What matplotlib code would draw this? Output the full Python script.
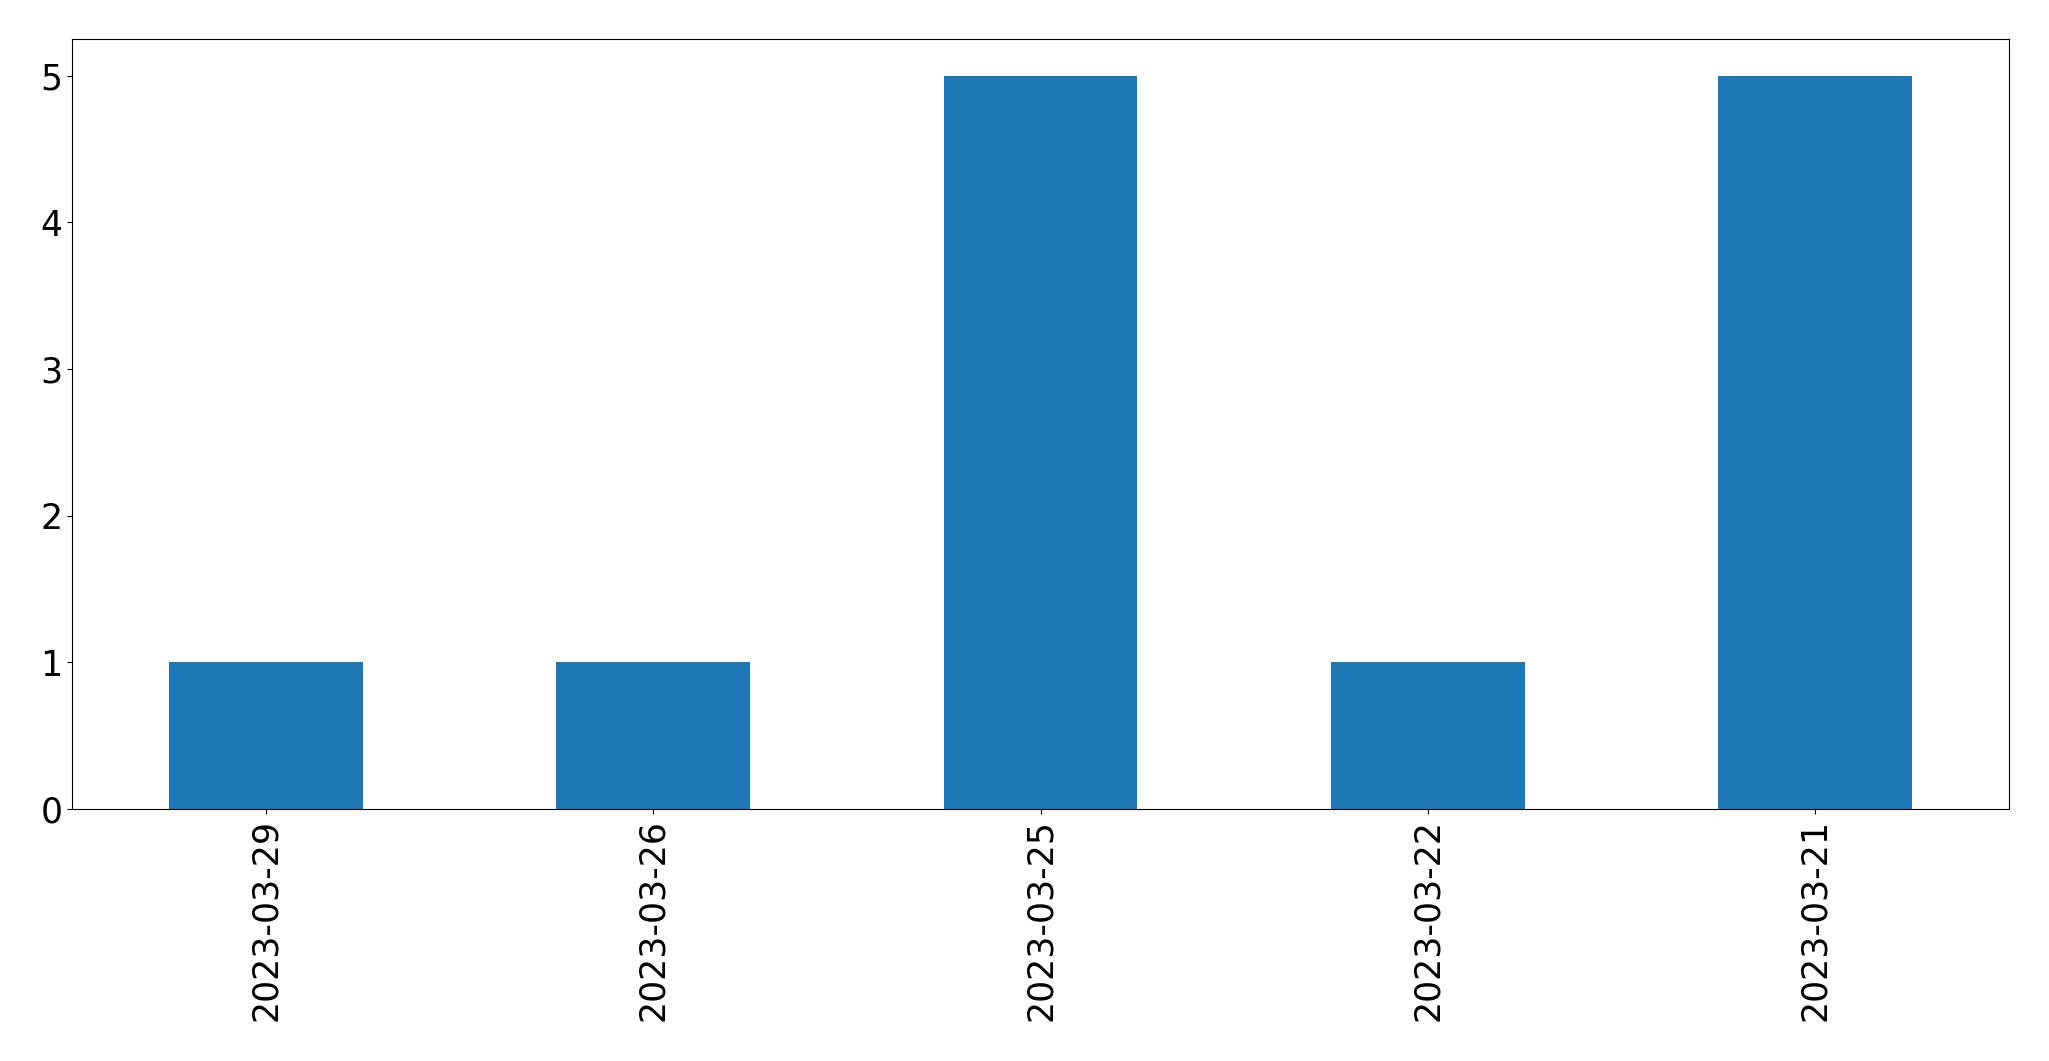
import matplotlib
matplotlib.use("Agg")
import matplotlib.pyplot as plt

dates = ["2023-03-29", "2023-03-26", "2023-03-25", "2023-03-22", "2023-03-21"]
counts = [1, 1, 5, 1, 5]

fig = plt.figure(figsize=(20.49, 10.61), dpi=100)
ax = fig.add_axes([72/2049, 1 - 809/1061, (2009-72)/2049, (809-39)/1061])
x = list(range(len(dates)))
ax.bar(x, counts, width=0.5, color="#1f77b4")
ax.set_xlim(-0.5, len(dates) - 0.5)
ax.set_ylim(0, 5.25)
ax.set_xticks(x)
ax.set_xticklabels(dates, rotation=90)
ax.tick_params(labelsize=25)
fig.savefig("out.png", dpi=100)
